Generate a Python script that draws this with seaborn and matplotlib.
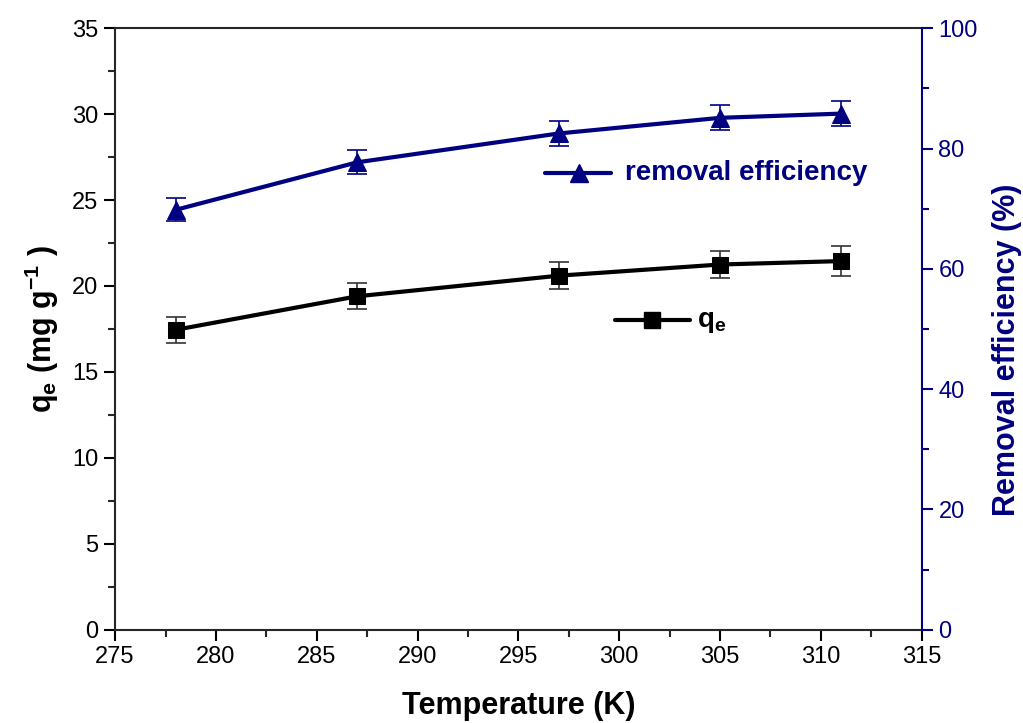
import matplotlib
matplotlib.use("Agg")
import matplotlib.pyplot as plt
import seaborn as sns
import pandas as pd
from matplotlib.ticker import MultipleLocator

temperature = [278, 287, 297, 305, 311]
qe_values = [17.45, 19.4, 20.6, 21.25, 21.45]
qe_err = [0.75, 0.75, 0.8, 0.8, 0.85]
removal_values = [69.8, 77.7, 82.5, 85.1, 85.8]
removal_err = [1.9, 2.0, 2.1, 2.1, 2.1]

navy = "#000080"

sns.set_style("ticks")
plt.rcParams["font.family"] = ["Liberation Sans", "DejaVu Sans"]
plt.rcParams["mathtext.fontset"] = "custom"
plt.rcParams["mathtext.rm"] = "Liberation Sans"
plt.rcParams["mathtext.bf"] = "Liberation Sans:bold"
plt.rcParams["axes.labelcolor"] = "black"
plt.rcParams["text.color"] = "black"

df = pd.DataFrame({"T": temperature, "qe": qe_values, "qe_err": qe_err,
                   "re": removal_values, "re_err": removal_err})

fig, ax = plt.subplots(figsize=(10.23, 7.23), dpi=100)
fig.subplots_adjust(left=0.1125, right=0.901, bottom=0.129, top=0.961)
ax2 = ax.twinx()

# q_e series on the left axis
ax.errorbar(df["T"], df["qe"], yerr=df["qe_err"], fmt="none", ecolor="#333333",
            elinewidth=1.2, capsize=7, capthick=1.2, zorder=2)
sns.lineplot(data=df, x="T", y="qe", ax=ax, color="black", linewidth=3.0,
             marker="s", markersize=12, markeredgecolor="black", zorder=3,
             legend=False)

# removal efficiency series on the right axis
ax2.errorbar(df["T"], df["re"], yerr=df["re_err"], fmt="none", ecolor=navy,
             elinewidth=1.2, capsize=7, capthick=1.2, zorder=2)
sns.lineplot(data=df, x="T", y="re", ax=ax2, color=navy, linewidth=3.0,
             marker="^", markersize=13, markeredgecolor=navy, zorder=3,
             legend=False)

ax.set_xlim(275, 315)
ax.set_ylim(0, 35)
ax2.set_ylim(0, 100)
ax.xaxis.set_major_locator(MultipleLocator(5))
ax.xaxis.set_minor_locator(MultipleLocator(2.5))
ax.yaxis.set_major_locator(MultipleLocator(5))
ax.yaxis.set_minor_locator(MultipleLocator(2.5))
ax2.yaxis.set_major_locator(MultipleLocator(20))
ax2.yaxis.set_minor_locator(MultipleLocator(10))

for a in (ax, ax2):
    for s in a.spines.values():
        s.set_linewidth(1.5)
        s.set_visible(True)
ax.spines["right"].set_visible(False)
ax2.spines["right"].set_color(navy)
ax2.spines["left"].set_visible(False)
ax2.spines["bottom"].set_visible(False)
ax2.spines["top"].set_visible(False)

ax.tick_params(axis="both", which="major", direction="out", length=8, width=1.5,
               labelsize=17, colors="black", pad=4)
ax.tick_params(axis="both", which="minor", direction="out", length=5, width=1.5)
ax2.tick_params(axis="y", which="major", direction="out", length=8, width=1.5,
                labelsize=17, colors=navy, pad=4)
ax2.tick_params(axis="y", which="minor", direction="out", length=5, width=1.5,
                colors=navy)

ax.set_xlabel("Temperature (K)", fontsize=22, fontweight="bold", labelpad=16)
ax.set_ylabel(r"$\mathbf{q_e}$ (mg g$^{\mathbf{-1}}$ )", fontsize=22,
              fontweight="bold", labelpad=8)
ax2.set_ylabel("Removal efficiency (%)", fontsize=22, fontweight="bold",
               color=navy, labelpad=10)
ax2.yaxis.label.set_y(0.465)

# in-plot legend entries
ax2.plot([296.3, 299.6], [75.9, 75.9], color=navy, linewidth=3.0, zorder=3)
ax2.plot([298.0], [75.9], color=navy, marker="^", markersize=13, zorder=4)
ax2.text(300.3, 75.9, "removal efficiency", color=navy, fontsize=20,
         fontweight="bold", va="center", ha="left")
ax.plot([299.8, 303.5], [18.0, 18.0], color="black", linewidth=3.0, zorder=3)
ax.plot([301.6], [18.0], color="black", marker="s", markersize=12, zorder=4)
ax.text(303.85, 17.9, r"$\mathbf{q_e}$", color="black", fontsize=20,
        va="center", ha="left")

fig.savefig("out.png", dpi=100)
